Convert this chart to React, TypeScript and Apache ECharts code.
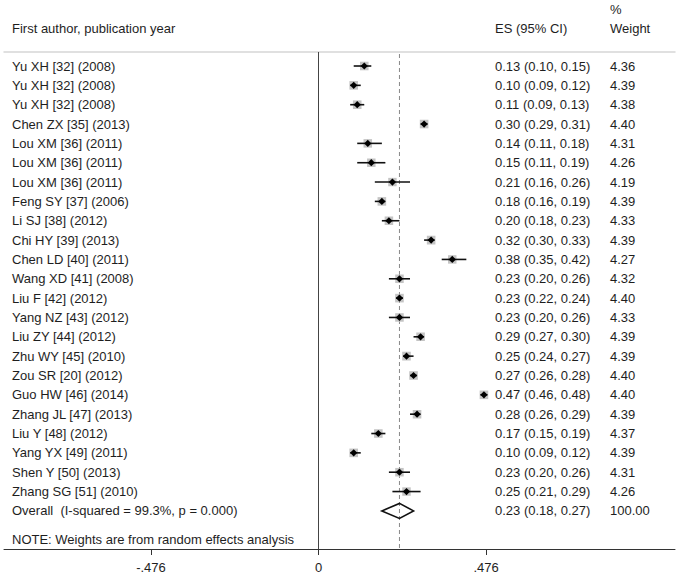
import React, { useEffect, useRef } from "react";
import * as echarts from "echarts";

const authors = [
  "Yu XH [32] (2008)", "Yu XH [32] (2008)", "Yu XH [32] (2008)", "Chen ZX [35] (2013)",
  "Lou XM [36] (2011)", "Lou XM [36] (2011)", "Lou XM [36] (2011)", "Feng SY [37] (2006)",
  "Li SJ [38] (2012)", "Chi HY [39] (2013)", "Chen LD [40] (2011)", "Wang XD [41] (2008)",
  "Liu F [42] (2012)", "Yang NZ [43] (2012)", "Liu ZY [44] (2012)", "Zhu WY [45] (2010)",
  "Zou SR [20] (2012)", "Guo HW [46] (2014)", "Zhang JL [47] (2013)", "Liu Y [48] (2012)",
  "Yang YX [49] (2011)", "Shen Y [50] (2013)", "Zhang SG [51] (2010)",
];
const es = [0.13, 0.10, 0.11, 0.30, 0.14, 0.15, 0.21, 0.18, 0.20, 0.32, 0.38, 0.23, 0.23, 0.23, 0.29, 0.25, 0.27, 0.47, 0.28, 0.17, 0.10, 0.23, 0.25];
const ciLow = [0.10, 0.09, 0.09, 0.29, 0.11, 0.11, 0.16, 0.16, 0.18, 0.30, 0.35, 0.20, 0.22, 0.20, 0.27, 0.24, 0.26, 0.46, 0.26, 0.15, 0.09, 0.20, 0.21];
const ciHigh = [0.15, 0.12, 0.13, 0.31, 0.18, 0.19, 0.26, 0.19, 0.23, 0.33, 0.42, 0.26, 0.24, 0.26, 0.30, 0.27, 0.28, 0.48, 0.29, 0.19, 0.12, 0.26, 0.29];
const weights = [4.36, 4.39, 4.38, 4.40, 4.31, 4.26, 4.19, 4.39, 4.33, 4.39, 4.27, 4.32, 4.40, 4.33, 4.39, 4.39, 4.40, 4.40, 4.39, 4.37, 4.39, 4.31, 4.26];

const overallLabel = "Overall  (I-squared = 99.3%, p = 0.000)";
const overallEs = 0.23;
const overallLow = 0.18;
const overallHigh = 0.27;
const overallWeight = 100.0;

const noteText = "NOTE: Weights are from random effects analysis";
const tickValues = [-0.476, 0, 0.476];
const tickLabels = ["-.476", "0", ".476"];

const FONT = "Arial, 'Liberation Sans', Helvetica, sans-serif";
const FONT_SIZE = 13;
const TEXT_COLOR = "#1e1e1e";
const LABEL_X = 12;
const ES_X = 495;
const W_X = 610;

const fmt = (v: number) => v.toFixed(2);

export default function App() {
  const ref = useRef<HTMLDivElement>(null);
  useEffect(() => {
    if (!ref.current) return;
    const chart = echarts.init(ref.current, null, { renderer: "svg" });

    const studyData = authors.map((a, i) => [es[i], ciLow[i], ciHigh[i], weights[i], i]);
    const overallRow = authors.length;
    const noteRow = overallRow + 1.5;

    const txt = (text: string, x: number, y: number, align = "left") => ({
      type: "text",
      style: {
        text, x, y, fill: TEXT_COLOR, fontSize: FONT_SIZE, fontFamily: FONT,
        align, verticalAlign: "middle",
      },
    });

    const option: any = {
      animation: false,
      backgroundColor: "#fff",
      grid: { left: 4, right: 4, top: 52, bottom: 29 },
      xAxis: [
        {
          type: "value",
          min: -0.8935,
          max: 1.0128,
          splitLine: { show: false },
          axisLine: { show: true, onZero: false, lineStyle: { color: "#333", width: 1 } },
          axisTick: { show: true, length: 6, customValues: tickValues, lineStyle: { color: "#333" } },
          axisLabel: {
            show: true,
            customValues: tickValues,
            margin: 12,
            fontSize: FONT_SIZE,
            fontFamily: FONT,
            color: TEXT_COLOR,
            formatter: (v: number) => {
              const idx = tickValues.findIndex((t) => Math.abs(t - v) < 1e-6);
              return idx >= 0 ? tickLabels[idx] : "";
            },
          },
        },
        {
          type: "value",
          position: "top",
          min: -0.8935,
          max: 1.0128,
          splitLine: { show: false },
          axisLine: { show: true, onZero: false, lineStyle: { color: "#d6d6d6", width: 1.5 } },
          axisTick: { show: false },
          axisLabel: { show: false },
        },
      ],
      yAxis: {
        type: "value",
        inverse: true,
        min: -0.724,
        max: 24.97,
        show: false,
        splitLine: { show: false },
      },
      graphic: [
        txt("First author, publication year", LABEL_X, 28),
        txt("ES (95% CI)", ES_X, 28),
        txt("%", W_X, 9),
        txt("Weight", W_X, 28),
      ],
      series: [
        {
          type: "custom",
          name: "overall",
          clip: false,
          z: 1,
          data: [[overallEs, overallLow, overallHigh, overallWeight, overallRow]],
          renderItem: (params: any, api: any) => {
            const cs = params.coordSys;
            const e = api.value(0), lo = api.value(1), hi = api.value(2), w = api.value(3), row = api.value(4);
            const pE = api.coord([e, row]);
            const pLo = api.coord([lo, row]);
            const pHi = api.coord([hi, row]);
            const p0 = api.coord([0, row]);
            const pNote = api.coord([0, noteRow]);
            const h = 7.5;
            return {
              type: "group",
              children: [
                {
                  type: "line",
                  shape: { x1: p0[0], y1: cs.y, x2: p0[0], y2: cs.y + cs.height },
                  style: { stroke: "#444", lineWidth: 1 },
                },
                {
                  type: "line",
                  shape: { x1: pE[0], y1: cs.y + 2, x2: pE[0], y2: cs.y + cs.height },
                  style: { stroke: "#888", lineWidth: 1, lineDash: [4, 3] },
                },
                {
                  type: "polygon",
                  shape: {
                    points: [[pLo[0], pE[1]], [pE[0], pE[1] - h], [pHi[0], pE[1]], [pE[0], pE[1] + h]],
                  },
                  style: { fill: "none", stroke: "#111", lineWidth: 1.6 },
                },
                txt(overallLabel, LABEL_X, pE[1]),
                txt(`${fmt(e)} (${fmt(lo)}, ${fmt(hi)})`, ES_X, pE[1]),
                txt(w.toFixed(2), W_X, pE[1]),
                txt(noteText, LABEL_X, pNote[1]),
              ],
            };
          },
        },
        {
          type: "custom",
          name: "studies",
          clip: false,
          z: 2,
          data: studyData,
          renderItem: (params: any, api: any) => {
            const i = params.dataIndex;
            const e = api.value(0), lo = api.value(1), hi = api.value(2), w = api.value(3), row = api.value(4);
            const pE = api.coord([e, row]);
            const pLo = api.coord([lo, row]);
            const pHi = api.coord([hi, row]);
            const side = Math.sqrt(w) * 4.1;
            const d = 3.6;
            return {
              type: "group",
              children: [
                {
                  type: "rect",
                  shape: { x: pE[0] - side / 2, y: pE[1] - side / 2, width: side, height: side },
                  style: { fill: "#c4c4c4" },
                },
                {
                  type: "line",
                  shape: { x1: pLo[0], y1: pE[1], x2: pHi[0], y2: pE[1] },
                  style: { stroke: "#111", lineWidth: 1.6 },
                },
                {
                  type: "polygon",
                  shape: { points: [[pE[0] - d, pE[1]], [pE[0], pE[1] - d], [pE[0] + d, pE[1]], [pE[0], pE[1] + d]] },
                  style: { fill: "#000" },
                },
                txt(authors[i], LABEL_X, pE[1]),
                txt(`${fmt(e)} (${fmt(lo)}, ${fmt(hi)})`, ES_X, pE[1]),
                txt(w.toFixed(2), W_X, pE[1]),
              ],
            };
          },
        },
      ],
    };
    chart.setOption(option);
    return () => chart.dispose();
  }, []);
  return (
    <div
      ref={ref}
      style={{ position: "fixed", left: 0, top: 0, width: 679, height: 578, background: "#fff" }}
    />
  );
}
